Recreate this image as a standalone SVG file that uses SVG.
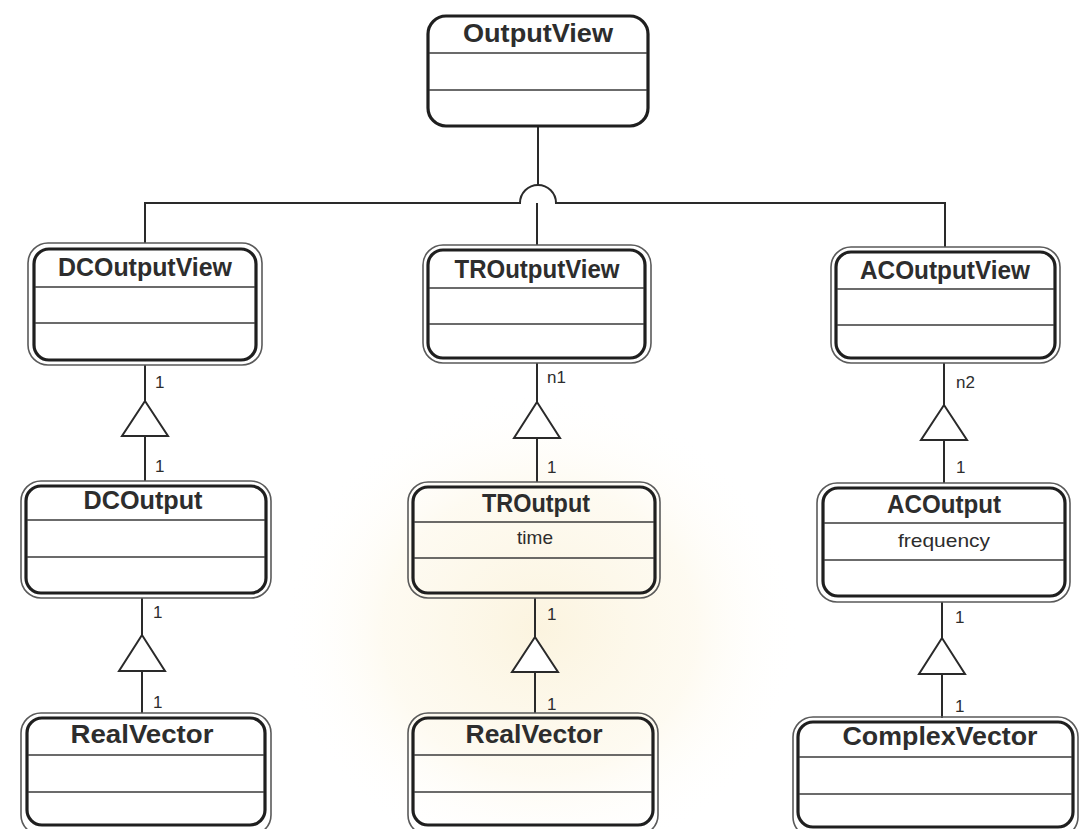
<svg xmlns="http://www.w3.org/2000/svg" width="1080" height="829" viewBox="0 0 1080 829">
  <style>
    .outer { fill: none; stroke: #5a5a5a; stroke-width: 1.6; }
    .inner { fill: none; stroke: #1f1f1f; stroke-width: 3.2; }
    .single { fill: #ffffff; stroke: #1f1f1f; stroke-width: 3.2; }
    .div { stroke: #3a3a3a; stroke-width: 1.6; }
    .title { font-family: "Liberation Sans", Arial, sans-serif; font-weight: bold; font-size: 25px; fill: #2d2d2d; text-anchor: middle; }
    .attr { font-family: "Liberation Sans", Arial, sans-serif; font-size: 19px; fill: #2d2d2d; text-anchor: middle; }
    .mult { font-family: "Liberation Sans", Arial, sans-serif; font-size: 17px; fill: #2d2d2d; }
    .line { fill: none; stroke: #2a2a2a; stroke-width: 2; }
    .tri { fill: #ffffff; stroke: #2a2a2a; stroke-width: 2; stroke-linejoin: miter; }
  </style>
  <defs>
    <radialGradient id="glow" cx="0.5" cy="0.5" r="0.5">
      <stop offset="0" stop-color="#f7e6b8" stop-opacity="0.45"/>
      <stop offset="0.6" stop-color="#faedc8" stop-opacity="0.25"/>
      <stop offset="1" stop-color="#ffffff" stop-opacity="0"/>
    </radialGradient>
  </defs>

  <rect x="0" y="0" width="1080" height="829" fill="#ffffff"/>
  <!-- faint background emblem tint -->
  <ellipse cx="540" cy="630" rx="260" ry="240" fill="url(#glow)"/>

  <!-- connectors -->
  <g id="connectors">
    <!-- inheritance tree from OutputView -->
    <path class="line" d="M538 126 V185"/>
    <path class="line" d="M145 243 V203 H520 A18 18 0 0 1 556 203 H945 V247"/>
    <path class="line" d="M537 203 V245"/>

    <!-- DC chain -->
    <path class="line" d="M145 365 V401 M145 436 V481"/>
    <polygon class="tri" points="145,401 122,436 168,436"/>
    <path class="line" d="M142 598 V635 M142 671 V713"/>
    <polygon class="tri" points="142,635 119,671 165,671"/>

    <!-- TR chain -->
    <path class="line" d="M537 363 V402 M537 438 V482"/>
    <polygon class="tri" points="537,402 514,438 560,438"/>
    <path class="line" d="M535 598 V637 M535 672 V713"/>
    <polygon class="tri" points="535,637 512,672 558,672"/>

    <!-- AC chain -->
    <path class="line" d="M944 363 V405 M944 440 V483"/>
    <polygon class="tri" points="944,405 921,440 967,440"/>
    <path class="line" d="M942 602 V638 M942 674 V718"/>
    <polygon class="tri" points="942,638 919,674 965,674"/>

    <!-- multiplicities -->
    <text class="mult" x="155" y="388">1</text>
    <text class="mult" x="155" y="472">1</text>
    <text class="mult" x="153" y="618">1</text>
    <text class="mult" x="153" y="708">1</text>
    <text class="mult" x="547" y="383">n1</text>
    <text class="mult" x="547" y="473">1</text>
    <text class="mult" x="547" y="620">1</text>
    <text class="mult" x="547" y="710">1</text>
    <text class="mult" x="956" y="388">n2</text>
    <text class="mult" x="956" y="473">1</text>
    <text class="mult" x="955" y="623">1</text>
    <text class="mult" x="955" y="712">1</text>
  </g>

  <!-- OutputView -->
  <g id="OutputView">
    <rect class="single" x="428" y="16" width="220" height="110" rx="18"/>
    <line class="div" x1="429" y1="53" x2="647" y2="53"/>
    <line class="div" x1="429" y1="90" x2="647" y2="90"/>
    <text class="title" x="538" y="42" textLength="150" lengthAdjust="spacingAndGlyphs">OutputView</text>
  </g>

  <!-- DCOutputView -->
  <g id="DCOutputView">
    <rect class="outer" x="28" y="243" width="234" height="122" rx="20"/>
    <rect class="inner" x="34" y="249" width="222" height="111" rx="15"/>
    <line class="div" x1="35" y1="287" x2="255" y2="287"/>
    <line class="div" x1="35" y1="323" x2="255" y2="323"/>
    <text class="title" x="145" y="276" textLength="174" lengthAdjust="spacingAndGlyphs">DCOutputView</text>
  </g>

  <!-- TROutputView -->
  <g id="TROutputView">
    <rect class="outer" x="423" y="245" width="228" height="118" rx="20"/>
    <rect class="inner" x="428" y="250" width="217" height="108" rx="15"/>
    <line class="div" x1="429" y1="288" x2="644" y2="288"/>
    <line class="div" x1="429" y1="324" x2="644" y2="324"/>
    <text class="title" x="537" y="278" textLength="165" lengthAdjust="spacingAndGlyphs">TROutputView</text>
  </g>

  <!-- ACOutputView -->
  <g id="ACOutputView">
    <rect class="outer" x="831" y="247" width="229" height="116" rx="20"/>
    <rect class="inner" x="836" y="252" width="219" height="106" rx="15"/>
    <line class="div" x1="837" y1="289" x2="1054" y2="289"/>
    <line class="div" x1="837" y1="325" x2="1054" y2="325"/>
    <text class="title" x="945" y="279" textLength="170" lengthAdjust="spacingAndGlyphs">ACOutputView</text>
  </g>

  <!-- DCOutput -->
  <g id="DCOutput">
    <rect class="outer" x="21" y="481" width="250" height="117" rx="20"/>
    <rect class="inner" x="26" y="486" width="240" height="107" rx="15"/>
    <line class="div" x1="27" y1="520" x2="265" y2="520"/>
    <line class="div" x1="27" y1="557" x2="265" y2="557"/>
    <text class="title" x="143" y="509" textLength="119" lengthAdjust="spacingAndGlyphs">DCOutput</text>
  </g>

  <!-- TROutput -->
  <g id="TROutput">
    <rect class="outer" x="408" y="482" width="252" height="116" rx="20"/>
    <rect class="inner" x="413" y="487" width="242" height="106" rx="15"/>
    <line class="div" x1="414" y1="522" x2="654" y2="522"/>
    <line class="div" x1="414" y1="558" x2="654" y2="558"/>
    <text class="title" x="536" y="512" textLength="108" lengthAdjust="spacingAndGlyphs">TROutput</text>
    <text class="attr" x="535" y="544" textLength="36" lengthAdjust="spacingAndGlyphs">time</text>
  </g>

  <!-- ACOutput -->
  <g id="ACOutput">
    <rect class="outer" x="817" y="483" width="253" height="119" rx="20"/>
    <rect class="inner" x="823" y="488" width="242" height="108" rx="15"/>
    <line class="div" x1="824" y1="523" x2="1064" y2="523"/>
    <line class="div" x1="824" y1="560" x2="1064" y2="560"/>
    <text class="title" x="944" y="513" textLength="114" lengthAdjust="spacingAndGlyphs">ACOutput</text>
    <text class="attr" x="944" y="547" textLength="92" lengthAdjust="spacingAndGlyphs">frequency</text>
  </g>

  <!-- RealVector (DC) -->
  <g id="RealVectorDC">
    <rect class="outer" x="21" y="713" width="250" height="122" rx="20"/>
    <rect class="inner" x="27" y="718" width="238" height="107" rx="15"/>
    <line class="div" x1="28" y1="755" x2="264" y2="755"/>
    <line class="div" x1="28" y1="792" x2="264" y2="792"/>
    <text class="title" x="142" y="743" textLength="143" lengthAdjust="spacingAndGlyphs">RealVector</text>
  </g>

  <!-- RealVector (TR) -->
  <g id="RealVectorTR">
    <rect class="outer" x="408" y="713" width="250" height="122" rx="20"/>
    <rect class="inner" x="413" y="718" width="240" height="107" rx="15"/>
    <line class="div" x1="414" y1="755" x2="652" y2="755"/>
    <line class="div" x1="414" y1="792" x2="652" y2="792"/>
    <text class="title" x="534" y="743" textLength="137" lengthAdjust="spacingAndGlyphs">RealVector</text>
  </g>

  <!-- ComplexVector -->
  <g id="ComplexVector">
    <rect class="outer" x="793" y="717" width="285" height="120" rx="20"/>
    <rect class="inner" x="798" y="722" width="275" height="105" rx="15"/>
    <line class="div" x1="799" y1="757" x2="1072" y2="757"/>
    <line class="div" x1="799" y1="794" x2="1072" y2="794"/>
    <text class="title" x="940" y="745" textLength="195" lengthAdjust="spacingAndGlyphs">ComplexVector</text>
  </g>
</svg>
